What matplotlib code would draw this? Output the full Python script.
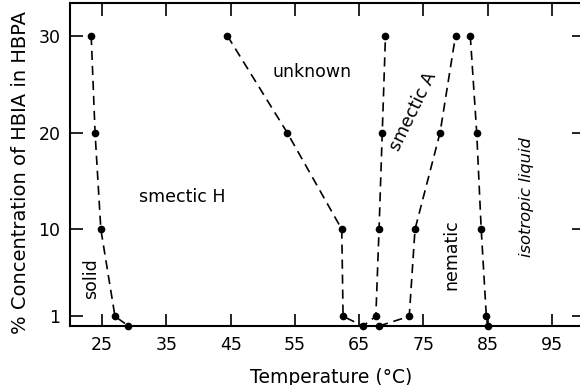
import matplotlib.pyplot as plt

# phase boundaries: temperature (C) vs % HBIA in HBPA
solid_T = [23.3, 23.9, 24.8, 27.0, 29.1]
solid_c = [30, 20, 10, 1, 0]

unknown_T = [44.5, 53.8, 62.3, 62.5, 65.6, 67.6, 68.1, 68.6, 69.1]
unknown_c = [30, 20, 10, 1, 0, 1, 10, 20, 30]

nematic_T = [68.1, 72.8, 73.7, 77.6, 80.0]
nematic_c = [0, 1, 10, 20, 30]

iso_T = [82.3, 83.3, 84.0, 84.8, 85.0]
iso_c = [30, 20, 10, 1, 0]

xticks = [25, 35, 45, 55, 65, 75, 85, 95]
yticks = [1, 10, 20, 30]

fig = plt.figure(figsize=(5.8, 3.85), dpi=100)
ax = fig.add_axes([70/580, 59/385, 514/580, 323/385])

for T, c in [(solid_T, solid_c), (unknown_T, unknown_c),
             (nematic_T, nematic_c), (iso_T, iso_c)]:
    ax.plot(T, c, color='black', linestyle=(0, (5.5, 3.5)), linewidth=1.2,
            marker='o', markersize=4.5, clip_on=False, zorder=3)

ax.set_xlim(20, 100)
ax.set_ylim(0, 33.4)
ax.set_xticks(xticks)
ax.set_yticks(yticks)
ax.tick_params(direction='in', length=9, width=1.2, labelsize=12.5,
               top=True, right=True, pad=7)
for s in ax.spines.values():
    s.set_linewidth(1.5)

ax.set_xlabel('Temperature (°C)', fontsize=13.5)
ax.set_ylabel('% Concentration of HBIA in HBPA', fontsize=14)
ax.xaxis.label.set_va('center')
ax.yaxis.label.set_va('center')
ax.xaxis.set_label_coords(0.508, -0.158)
ax.yaxis.set_label_coords(-0.097, 0.474)

ax.text(23.3, 4.85, 'solid', rotation=90, ha='center', va='center', fontsize=12.5)
ax.text(37.5, 13.3, 'smectic H', ha='center', va='center', fontsize=12.5)
ax.text(57.7, 26.3, 'unknown', ha='center', va='center', fontsize=12.5)
ax.text(73.4, 22.2, 'smectic A', rotation=64, ha='center', va='center', fontsize=12.5)
ax.text(79.3, 7.4, 'nematic', rotation=90, ha='center', va='center', fontsize=12.5)
ax.text(91.1, 13.3, 'isotropic liquid', rotation=90, ha='center', va='center',
        fontsize=11.8, style='italic')

fig.savefig('out.png', dpi=100)
